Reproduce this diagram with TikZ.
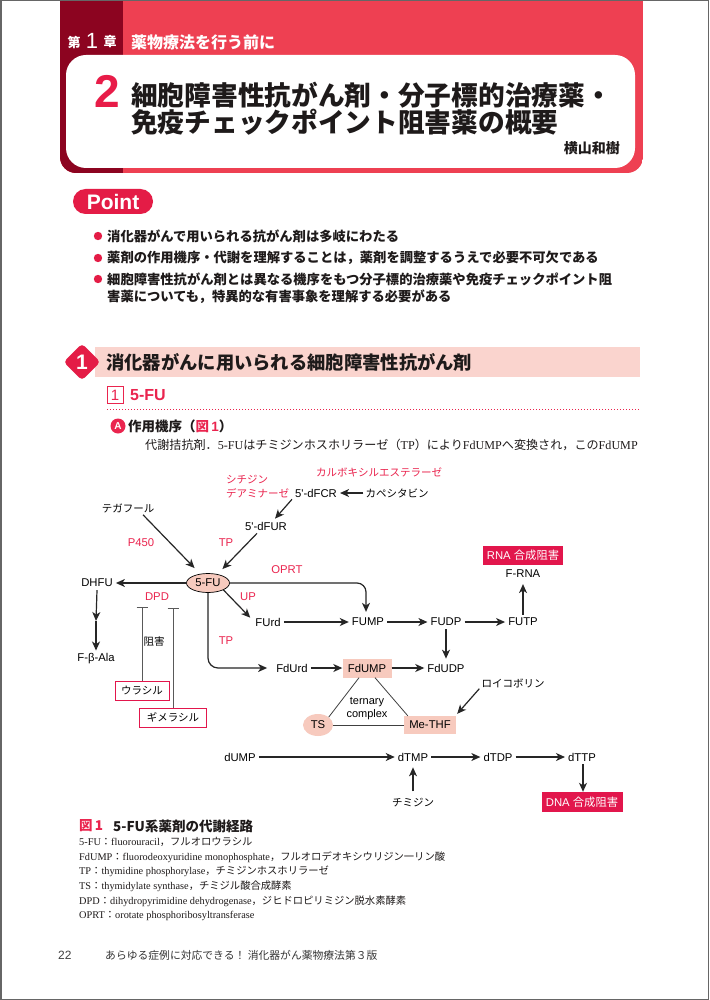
\documentclass[tikz,border=0pt]{standalone}
\usepackage{fontspec}
\setmainfont{Liberation Serif}
\newfontfamily\jp{Noto Sans CJK JP}
\newfontfamily\hv{Liberation Sans}
\usetikzlibrary{arrows.meta,calc,shapes.geometric}
\newcommand\fsz[1]{\fontsize{#1}{#1}\selectfont}
\newcommand\J[1]{{\jp #1}}
\definecolor{hdred}{RGB}{238,64,82}
\definecolor{hddark}{RGB}{140,4,32}
\definecolor{numred}{RGB}{232,28,72}
\definecolor{ptred}{RGB}{228,28,70}
\definecolor{secpink}{RGB}{250,212,206}
\definecolor{lbred}{RGB}{234,36,78}
\definecolor{pinkf}{RGB}{247,202,190}
\definecolor{boxred}{RGB}{226,22,76}
\definecolor{titleblk}{RGB}{30,26,26}
\begin{document}
\begin{tikzpicture}[x=1pt,y=-1pt,
  lat/.style={font=\hv\fsz{11.3}, inner sep=3pt},
  jpn/.style={font=\jp\fsz{10.5}, inner sep=2pt},
  rlat/.style={lat, text=lbred},
  rjpn/.style={jpn, text=lbred},
  arr/.style={-{Stealth[length=9pt,width=8pt,inset=2.6pt]}, line width=1.2pt, black!85},
  inh/.style={{Bar[width=11pt,line width=0.9pt]}-, line width=0.9pt, black!65},
  pinkbox/.style={fill=pinkf, minimum height=19pt, inner sep=0pt, font=\hv\fsz{11.3}},
  redbox/.style={fill=boxred, text=white, minimum height=20pt, inner sep=0pt},
  outbox/.style={draw=boxred, line width=0.9pt, fill=white, minimum height=19pt, inner sep=0pt, font=\jp\fsz{10.5}},
  bul/.style={anchor=west, font=\jp\bfseries\fsz{13.3}, text=titleblk, inner sep=0pt},
  capline/.style={anchor=west, font=\rmfamily\fsz{10.3}, inner sep=0pt, text=titleblk}
]
\useasboundingbox (0,0) rectangle (709,1000);
\clip (0,0) rectangle (709,1000);
\fill[white] (0,0) rectangle (709,1000);

% ---------- header ----------
\begin{scope}
  \clip[rounded corners=16pt] (60,-40) rectangle (643,173);
  \fill[hdred] (60,-40) rectangle (643,173);
  \fill[hddark] (60,-40) rectangle (123,173);
\end{scope}
\fill[white, rounded corners=20pt] (66,55) rectangle (635,168);
\node[font=\jp\bfseries\fsz{13}, text=white, inner sep=0] (ch1) at (74,42) {第};
\node[font=\hv\fsz{22}, text=white, inner sep=0] (ch2) at (92,41) {1};
\node[font=\jp\bfseries\fsz{13}, text=white, inner sep=0] (ch3) at (110,42) {章};
\node[anchor=west, font=\jp\bfseries\fsz{16}, text=white, inner sep=0] (cht) at (131,42) {薬物療法を行う前に};
\node[font=\hv\bfseries\fsz{46}, text=numred, inner sep=0] (n2) at (107.5,91.5) {2};
\node[anchor=west, font=\jp\bfseries\fsz{26.7}, text=titleblk, inner sep=0] (t1) at (131,95) {細胞障害性抗がん剤・分子標的治療薬・};
\node[anchor=west, font=\jp\bfseries\fsz{26.7}, text=titleblk, inner sep=0] (t2) at (131,122) {免疫チェックポイント阻害薬の概要};
\node[anchor=east, font=\jp\bfseries\fsz{14}, text=titleblk, inner sep=0] (auth) at (620,148) {横山和樹};

% ---------- Point ----------
\node[fill=ptred, rounded corners=12.5pt, minimum width=80pt, minimum height=25pt, inner sep=0] (ptbox) at (113,201.5) {};
\node[font=\hv\bfseries\fsz{21}, text=white, inner sep=0] (ptt) at (ptbox) {Point};
\fill[ptred] (98,236) circle (4.2);
\fill[ptred] (98,258) circle (4.2);
\fill[ptred] (98,279) circle (4.2);
\node[bul] (b1) at (107,236) {消化器がんで用いられる抗がん剤は多岐にわたる};
\node[bul] (b2) at (107,258) {薬剤の作用機序・代謝を理解することは，薬剤を調整するうえで必要不可欠である};
\node[bul] (b3) at (107,279) {細胞障害性抗がん剤とは異なる機序をもつ分子標的治療薬や免疫チェックポイント阻};
\node[bul] (b4) at (107,297) {害薬についても，特異的な有害事象を理解する必要がある};

% ---------- section ----------
\fill[secpink] (95,347) rectangle (640,377);
\node[diamond, fill=ptred, minimum width=37pt, minimum height=37pt, inner sep=0, rounded corners=4pt] (d1) at (82,362) {};
\node[font=\hv\bfseries\fsz{21}, text=white, inner sep=0] (d1t) at (d1) {1};
\node[anchor=west, font=\jp\bfseries\fsz{18.3}, text=titleblk, inner sep=0] (sec) at (106,362) {消化器がんに用いられる細胞障害性抗がん剤};
\node[draw=lbred, line width=0.9pt, minimum width=16pt, minimum height=17pt, inner sep=0, font=\hv\fsz{15}, text=lbred] (s1) at (115,395) {1};
\node[anchor=west, font=\hv\bfseries\fsz{16}, text=lbred, inner sep=0] (s1t) at (130,395) {5-FU};
\draw[lbred, line width=1pt, dash pattern=on 1pt off 2pt] (107,409) -- (640,409);
\node[circle, fill=lbred, minimum size=15pt, inner sep=0, font=\hv\bfseries\fsz{10}, text=white] (cA) at (118,426) {A};
\node[anchor=west, font=\jp\bfseries\fsz{13.5}, text=titleblk, inner sep=0] (cAt) at (128,426) {作用機序（{\color{lbred}図\,\hv 1}）};
\node[anchor=west, font=\jp\fsz{12.1}, text=titleblk, inner sep=0] (body) at (145,445) {代謝拮抗剤．{\rmfamily 5-FU}はチミジンホスホリラーゼ（{\rmfamily TP}）により{\rmfamily FdUMP}へ変換され，この{\rmfamily FdUMP}};

% ---------- diagram nodes ----------
\node[rjpn] (carb) at (379,472) {カルボキシルエステラーゼ};
\node[rjpn, anchor=west, align=left, font=\jp\fontsize{10.5}{13.5}\selectfont] (cyt) at (224,486.5) {シチジン\\デアミナーゼ};
\node[lat] (fcr) at (316,493) {5'-dFCR};
\node[jpn] (kape) at (397,493) {カペシタビン};
\node[jpn] (tega) at (128,508) {テガフール};
\node[lat] (fur) at (266,526) {5'-dFUR};
\node[rlat] (p450) at (141,543) {P450};
\node[rlat] (tp1) at (226,543) {TP};
\node[rlat] (oprt) at (287,570) {OPRT};
\node[ellipse, draw, line width=0.7pt, fill=pinkf, minimum width=43pt, minimum height=19pt, inner sep=0pt, font=\hv\fsz{11.3}] (fu) at (208,583) {5-FU};
\node[lat] (dhfu) at (97,583) {DHFU};
\node[rlat] (dpd) at (157,597) {DPD};
\node[rlat] (up) at (248,597) {UP};
\node[lat] (fbala) at (96,659) {F-β-Ala};
\coordinate (dmid) at (96,621);
\node[jpn] (sogai) at (154,642) {阻害};
\node[outbox, minimum width=54pt] (ura) at (142,691) {ウラシル};
\node[outbox, minimum width=67pt] (gime) at (173,717.5) {ギメラシル};
\coordinate (bar1) at (142,607);
\coordinate (bar2) at (173,608);
\node[lat] (furd) at (268,622) {FUrd};
\node[lat] (fump) at (368,622) {FUMP};
\node[lat] (fudp) at (446,622) {FUDP};
\node[lat] (futp) at (523,622) {FUTP};
\node[lat] (frna) at (523,574) {F-RNA};
\node[redbox, minimum width=80pt, minimum height=19pt] (rna) at (523,555) {\hv\fsz{11.3}RNA \jp 合成阻害};
\node[rlat] (tp2) at (226,641) {TP};
\node[lat] (fdurd) at (292,668) {FdUrd};
\node[pinkbox, minimum width=49pt] (fdump) at (367,668) {FdUMP};
\node[lat] (fdudp) at (446,668) {FdUDP};
\node[lat, align=center, font=\hv\fontsize{11}{13}\selectfont] (tern) at (367,708.5) {ternary\\complex};
\node[ellipse, fill=pinkf, minimum width=30pt, minimum height=22pt, inner sep=0pt, font=\hv\fsz{11.3}] (ts) at (318,725) {TS};
\node[pinkbox, minimum width=52pt, minimum height=18pt] (methf) at (430,725) {Me-THF};
\node[jpn] (roico) at (513,683) {ロイコボリン};
\node[lat] (dump) at (240,757) {dUMP};
\node[lat] (dtmp) at (413,757) {dTMP};
\node[lat] (dtdp) at (498,757) {dTDP};
\node[lat] (dttp) at (582,757) {dTTP};
\node[redbox, minimum width=81pt] (dna) at (582,802) {\hv\fsz{11.3}DNA \jp 合成阻害};
\node[jpn] (thym) at (413,803) {チミジン};

% ---------- connectors ----------
\draw[arr] (kape.west) -- (fcr.east);
\draw[arr] ($(fcr.south west)+(0,-1)$) -- ($(fur.north)+(9,0)$);
\draw[arr] ($(tega.south)+(15,0)$) -- ($(fu.north west)+(2,-8)$);
\draw[arr] ($(fur.south)+(-9,0)$) -- ($(fu.north east)+(-1,-7)$);
\draw[arr] (fu.west) -- (dhfu.east);
\draw[arr] (dhfu.south) -- (dmid);
\draw[arr] (dmid) -- (fbala.north);
\draw[inh] (bar1) -- (ura.north);
\draw[inh] (bar2) -- (gime.north);
\draw[arr] (fu.south east) -- ($(furd.north west)+(-2,3)$);
\draw[arr, rounded corners=9pt] (fu.east) -| ($(fump.north)+(-2,-3)$);
\draw[arr] (furd.east) -- (fump.west);
\draw[arr] (fump.east) -- (fudp.west);
\draw[arr] (fudp.east) -- (futp.west);
\draw[arr, shorten >=3pt] (futp.north) -- (frna.south);
\draw[arr, shorten >=2pt] (fudp.south) -- (fdudp.north);
\draw[arr, rounded corners=10pt] (fu.south) |- ($(fdurd.west)+(-6,0)$);
\draw[arr] (fdurd.east) -- (fdump.west);
\draw[arr] (fdump.east) -- (fdudp.west);
\draw[line width=0.8pt, black!75] ($(fdump.south)+(-8,0)$) -- (ts.north east);
\draw[line width=0.8pt, black!75] ($(fdump.south)+(8,0)$) -- ($(methf.north west)+(4,0)$);
\draw[line width=0.8pt, black!75] (ts.east) -- (methf.west);
\draw[arr] ($(roico.south west)+(0,-1)$) -- ($(methf.north east)+(1,-2)$);
\draw[arr] (dump.east) -- (dtmp.west);
\draw[arr] (dtmp.east) -- (dtdp.west);
\draw[arr] (dtdp.east) -- (dttp.west);
\draw[arr] ($(dttp.south)+(1,0)$) -- ($(dna.north)+(1,0)$);
\draw[arr, shorten >=3pt] ($(thym.north)+(0,-5)$) -- (dtmp.south);

% ---------- caption ----------
\node[anchor=west, font=\jp\bfseries\fsz{13.5}, text=lbred, inner sep=0] (fig) at (79,826) {図\,1};
\node[anchor=west, font=\jp\bfseries\fsz{13.5}, text=titleblk, inner sep=0] (figt) at (113,826) {5-FU系薬剤の代謝経路};
\node[capline] (c1) at (79,842) {5-FU\J{：}fluorouracil\J{，フルオロウラシル}};
\node[capline] (c2) at (79,857) {FdUMP\J{：}fluorodeoxyuridine monophosphate\J{，フルオロデオキシウリジン一リン酸}};
\node[capline] (c3) at (79,871.5) {TP\J{：}thymidine phosphorylase\J{，チミジンホスホリラーゼ}};
\node[capline] (c4) at (79,886) {TS\J{：}thymidylate synthase\J{，チミジル酸合成酵素}};
\node[capline] (c5) at (79,901) {DPD\J{：}dihydropyrimidine dehydrogenase\J{，ジヒドロピリミジン脱水素酵素}};
\node[capline] (c6) at (79,916) {OPRT\J{：}orotate phosphoribosyltransferase};

% ---------- footer ----------
\node[anchor=west, font=\hv\fsz{12}, text=black!75, inner sep=0] (pg) at (58,955) {22};
\node[anchor=west, font=\jp\fsz{10.8}, text=black!80, inner sep=0] (book) at (105,955) {あらゆる症例に対応できる！ 消化器がん薬物療法第３版};

\draw[black!60, line width=1.5pt] (0.75,0.75) rectangle (708.25,999.25);
\end{tikzpicture}
\end{document}
